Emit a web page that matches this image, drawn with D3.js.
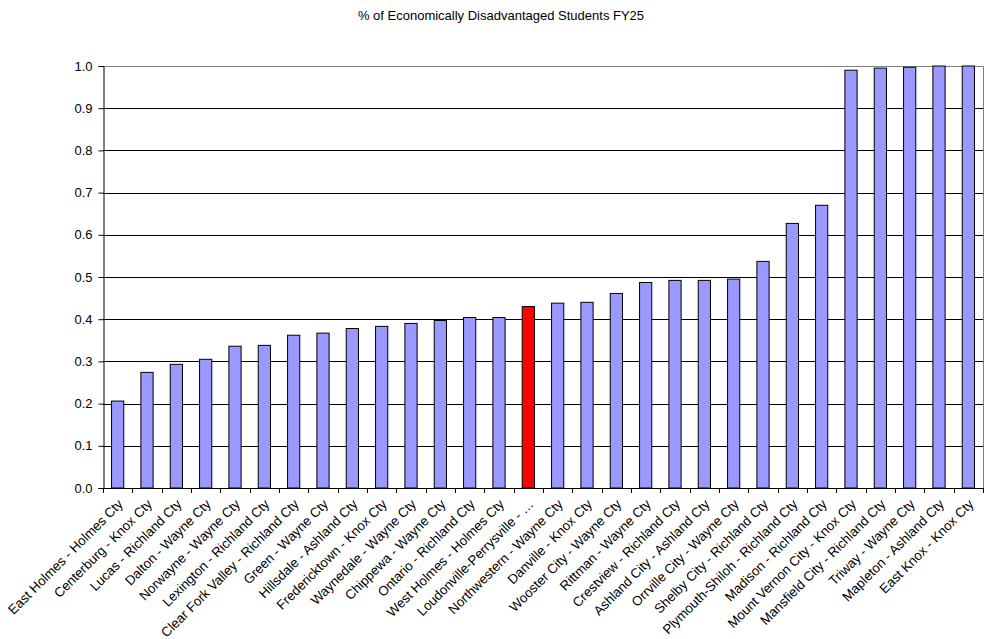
<!DOCTYPE html>
<html>
<head>
<meta charset="utf-8">
<script src="https://cdn.jsdelivr.net/npm/d3@7"></script>
<style>
  body { margin: 0; background: #fff; }
  text { font-family: "Liberation Sans", Arial, sans-serif; fill: #000; }
</style>
</head>
<body>
<svg class="bar-chart"></svg>
<script>
let width = 993
let height = 639

let districts = [
  'East Holmes - Holmes Cty', 'Centerburg - Knox Cty', 'Lucas - Richland Cty',
  'Dalton - Wayne Cty', 'Norwayne - Wayne Cty', 'Lexington - Richland Cty',
  'Clear Fork Valley - Richland Cty', 'Green - Wayne Cty', 'Hillsdale - Ashland Cty',
  'Fredericktown - Knox Cty', 'Waynedale - Wayne Cty', 'Chippewa - Wayne Cty',
  'Ontario - Richland Cty', 'West Holmes - Holmes Cty', 'Loudonville-Perrysville - …',
  'Northwestern - Wayne Cty', 'Danville - Knox Cty', 'Wooster City - Wayne Cty',
  'Rittman - Wayne Cty', 'Crestview - Richland Cty', 'Ashland City - Ashland Cty',
  'Orrville City - Wayne Cty', 'Shelby City - Richland Cty', 'Plymouth-Shiloh - Richland Cty',
  'Madison - Richland Cty', 'Mount Vernon City - Knox Cty', 'Mansfield City - Richland Cty',
  'Triway - Wayne Cty', 'Mapleton - Ashland Cty', 'East Knox - Knox Cty'
]

let shares = [
  0.206, 0.274, 0.293, 0.305, 0.336, 0.338, 0.362, 0.367, 0.378, 0.383,
  0.390, 0.397, 0.404, 0.404, 0.430, 0.438, 0.440, 0.461, 0.487, 0.492,
  0.492, 0.495, 0.537, 0.627, 0.670, 0.990, 0.995, 0.997, 1.0, 1.0
]

let highlighted = ['Loudonville-Perrysville - …']

let yTicks = [0, 0.1, 0.2, 0.3, 0.4, 0.5, 0.6, 0.7, 0.8, 0.9, 1.0]

let data = districts.map((name, i) => ({ name: name, value: shares[i] }))

let plotLeft = 103, plotRight = 983, plotTop = 66, plotBottom = 488

let svg = d3.select('.bar-chart')
  .attr('width', width)
  .attr('height', height)

svg.append('text')
  .attr('x', 501)
  .attr('y', 19.5)
  .attr('text-anchor', 'middle')
  .style('font-size', '13px')
  .text('% of Economically Disadvantaged Students FY25')

let x = d3.scaleBand()
  .domain(districts)
  .range([plotLeft, plotRight])
  .paddingInner(0.583)
  .paddingOuter(0.2915)

let y = d3.scaleLinear()
  .domain([0, 1])
  .range([plotBottom, plotTop])

// gridlines
svg.append('g')
  .selectAll('line')
  .data(yTicks.slice(1, -1))
  .enter()
  .append('line')
  .attr('x1', plotLeft)
  .attr('x2', plotRight)
  .attr('y1', (d) => Math.round(y(d)) + 0.5)
  .attr('y2', (d) => Math.round(y(d)) + 0.5)
  .attr('stroke', '#000')

// top and right border
svg.append('path')
  .attr('d', `M${plotLeft},${plotTop + 0.5}H${plotRight + 0.5}V${plotBottom}`)
  .attr('fill', 'none')
  .attr('stroke', '#808080')

svg.append('g')
  .selectAll('rect')
  .data(data)
  .enter()
  .append('rect')
  .attr('x', (d) => x(d.name))
  .attr('y', (d) => y(d.value))
  .attr('width', x.bandwidth())
  .attr('height', (d) => y(0) - y(d.value))
  .attr('fill', (d) => highlighted.includes(d.name) ? '#ff0000' : '#9999ff')
  .attr('stroke', '#000')
  .attr('stroke-width', 1)

// y axis
let yAxis = svg.append('g')
  .attr('transform', `translate(${plotLeft + 0.5},0)`)
  .call(d3.axisLeft(y).tickValues(yTicks).tickFormat(d3.format('.1f')).tickSize(5).tickPadding(6))
yAxis.selectAll('text').style('font-size', '13px').style('font-family', '"Liberation Sans", Arial, sans-serif')
yAxis.selectAll('line, path').attr('stroke', '#000')

// x axis: ticks at category boundaries
let step = x.step()
let boundaries = districts.map((d) => x(d) - (step - x.bandwidth()) / 2)
boundaries.push(plotRight)

let xAxis = svg.append('g')
xAxis.append('line')
  .attr('x1', plotLeft)
  .attr('x2', plotRight)
  .attr('y1', plotBottom + 0.5)
  .attr('y2', plotBottom + 0.5)
  .attr('stroke', '#000')
xAxis.selectAll('.tick')
  .data(boundaries)
  .enter()
  .append('line')
  .attr('x1', (d) => Math.round(d) + 0.5)
  .attr('x2', (d) => Math.round(d) + 0.5)
  .attr('y1', plotBottom)
  .attr('y2', plotBottom + 5)
  .attr('stroke', '#000')

xAxis.selectAll('text')
  .data(districts)
  .enter()
  .append('text')
  .attr('text-anchor', 'end')
  .attr('transform', (d) => `translate(${x(d) + x.bandwidth() / 2 + 6}, ${plotBottom + 17}) rotate(-45)`)
  .style('font-size', '13.3px')
  .text((d) => d)
</script>
</body>
</html>
